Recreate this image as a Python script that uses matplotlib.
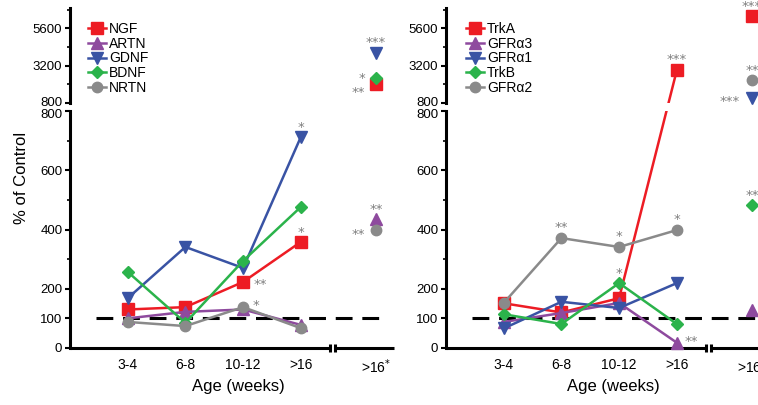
import matplotlib
matplotlib.use("Agg")
import matplotlib.pyplot as plt
import matplotlib.transforms as mtransforms
import numpy as np

W, H = 758, 405

ages = ["3-4", "6-8", "10-12", ">16"]
late_label = ">16$^{*}$"

# left panel: neurotrophic factors, % of control
left_names = ["NGF", "ARTN", "GDNF", "BDNF", "NRTN"]
ngf = [130, 138, 223, 358]
artn = [100, 122, 130, 78]
gdnf = [168, 341, 270, 712]
bdnf = [257, 85, 294, 476]
nrtn = [88, 74, 138, 67]
left_late = [2000, 435, 4000, 2400, 398]

# right panel: receptors, % of control
right_names = ["TrkA", "GFR\u03b13", "GFR\u03b11", "TrkB", "GFR\u03b12"]
trka = [151, 120, 168, 2900]
gfra3 = [88, 118, 152, 18]
gfra1 = [66, 156, 135, 219]
trkb = [114, 81, 219, 81]
gfra2 = [152, 371, 341, 398]
right_late = [6400, 128, 1100, 483, 2300]

# significance marks: (series, age index, 4 = >16*, text, dx px, dy px)
left_stars = [(2, 3, "*", 0, 12), (0, 3, "*", 0, 12), (0, 2, "**", 17, 0),
              (4, 2, "*", 13, 4), (2, 4, "***", 0, 13), (3, 4, "*", -14, 2),
              (0, 4, "**", -18, -5), (1, 4, "**", 0, 12), (4, 4, "**", -18, -2)]
right_stars = [(4, 1, "**", 0, 13), (4, 2, "*", 0, 13), (4, 3, "*", 0, 13),
               (3, 2, "*", 0, 12), (1, 3, "**", 14, 4), (0, 3, "***", 0, 14),
               (0, 4, "***", 0, 12), (4, 4, "**", 0, 12), (2, 4, "***", -22, 0),
               (3, 4, "**", 0, 12)]

colors = ["#ed1c24", "#8e4a9e", "#3953a4", "#2bb34b", "#8a8a8a"]
markers = ["s", "^", "v", "D", "o"]
msizes = [8, 8, 8, 6, 7.5]
star_color = "#7f7f7f"

xs = np.arange(1, 5)
late_x = 5.3
xmax = 5.62
brk = (4.5, 4.6)
cut = 800

plt.rcParams["font.family"] = ["Liberation Sans", "DejaVu Sans"]
fig = plt.figure(figsize=(W / 100, H / 100), dpi=100)


def box(x0, top, x1, bottom):
    return [x0 / W, 1 - bottom / H, (x1 - x0) / W, (bottom - top) / H]


def nudge(label, dy_px):
    label.set_transform(label.get_transform() +
                        mtransforms.ScaledTranslation(0, dy_px / 100, fig.dpi_scale_trans))


def setup(x0):
    x1 = x0 + xmax * 57.7
    lo = fig.add_axes(box(x0, 111, x1, 348))
    hi = fig.add_axes(box(x0, 8, x1, 103))
    for ax in (lo, hi):
        ax.set_xlim(0, xmax)
        ax.set_facecolor("none")
        for s in ("top", "right", "bottom"):
            ax.spines[s].set_visible(False)
        ax.spines["left"].set_linewidth(2.2)
        ax.tick_params(axis="y", which="major", length=3.5, width=1.5, labelsize=9.5, pad=2)
        ax.tick_params(axis="y", which="minor", length=2, width=1.2)
    lo.set_ylim(0, 800)
    lo.set_yticks([0, 100, 200, 400, 600, 800])
    lo.set_yticks([300, 500, 700], minor=True)
    hi.set_ylim(cut, 6900)
    hi.set_yticks([800, 3200, 5600])
    hi.set_yticks([2000, 4400, 6800], minor=True)
    hi.set_xticks([])
    nudge(lo.get_yticklabels()[-1], -2)
    nudge(hi.get_yticklabels()[0], 2)
    lo.set_xticks(list(xs) + [late_x], ages + [late_label])
    lo.tick_params(axis="x", length=0, labelsize=10, pad=7)
    # broken x axis
    kw = dict(color="k", lw=2.2, clip_on=False, solid_capstyle="butt")
    lo.plot([0, brk[0]], [0, 0], **kw)
    lo.plot([brk[1], xmax], [0, 0], **kw)
    lo.plot(brk, [0, 0], ls="none", marker="|", ms=6, mew=2.2, color="k", clip_on=False)
    lo.plot([0.45, 5.5], [100, 100], color="k", lw=2.2, dashes=(5.5, 3.2), zorder=1)
    return lo, hi


def bridge(ax_a, pa, ax_b, pb, color):
    da = ax_a.transData.transform(pa)
    db = ax_b.transData.transform(pb)
    for ax in (ax_a, ax_b):
        (x0, y0), (x1, y1) = ax.transData.inverted().transform([da, db])
        ax.plot([x0, x1], [y0, y1], color=color, lw=1.8, zorder=2)


def draw_panel(lo, hi, series, late, names, stars):
    handles = []
    for i, vals in enumerate(series):
        vals = np.asarray(vals, float)
        low = vals <= cut
        kw = dict(color=colors[i], marker=markers[i], ms=msizes[i], lw=1.8,
                  clip_on=False, zorder=3)
        h, = lo.plot(xs, np.where(low, vals, np.nan), label=names[i], **kw)
        hi.plot(xs, np.where(~low, vals, np.nan), **kw)
        handles.append(h)
        for k in range(len(vals) - 1):
            if low[k] != low[k + 1]:
                ax_a = lo if low[k] else hi
                ax_b = lo if low[k + 1] else hi
                bridge(ax_a, (xs[k], vals[k]), ax_b, (xs[k + 1], vals[k + 1]), colors[i])
        ax = lo if late[i] <= cut else hi
        ax.plot([late_x], [late[i]], ls="none", marker=markers[i], ms=msizes[i],
                color=colors[i], clip_on=False, zorder=3)
    for si, ai, txt, dx, dy in stars:
        if ai < 4:
            x, v = xs[ai], series[si][ai]
        else:
            x, v = late_x, late[si]
        ax = lo if v <= cut else hi
        ax.annotate(txt, (x, v), xytext=(dx * 0.72, dy * 0.72 - 2), textcoords="offset points",
                    ha="center", va="center", fontsize=9.5, color=star_color,
                    family="DejaVu Sans", annotation_clip=False)
    return handles


lo_l, hi_l = setup(70)
hl = draw_panel(lo_l, hi_l, [ngf, artn, gdnf, bdnf, nrtn], left_late, left_names, left_stars)
lo_r, hi_r = setup(446)
hr = draw_panel(lo_r, hi_r, [trka, gfra3, gfra1, trkb, gfra2], right_late, right_names, right_stars)

for ax, hs, xpx in ((hi_l, hl, 88), (hi_r, hr, 466)):
    ax.legend(handles=hs, loc="upper left", bbox_to_anchor=(xpx / W, 1 - 22 / H),
              bbox_transform=fig.transFigure, frameon=False, fontsize=10,
              handlelength=1.3, handletextpad=0.2, labelspacing=0.05,
              borderpad=0, borderaxespad=0)

fig.text(22 / W, 1 - 178 / H, "% of Control", rotation=90, ha="center", va="center", fontsize=12)
fig.text(238 / W, 1 - 386 / H, "Age (weeks)", ha="center", va="center", fontsize=12)
fig.text(613 / W, 1 - 386 / H, "Age (weeks)", ha="center", va="center", fontsize=12)

fig.savefig("out.png", dpi=100)
